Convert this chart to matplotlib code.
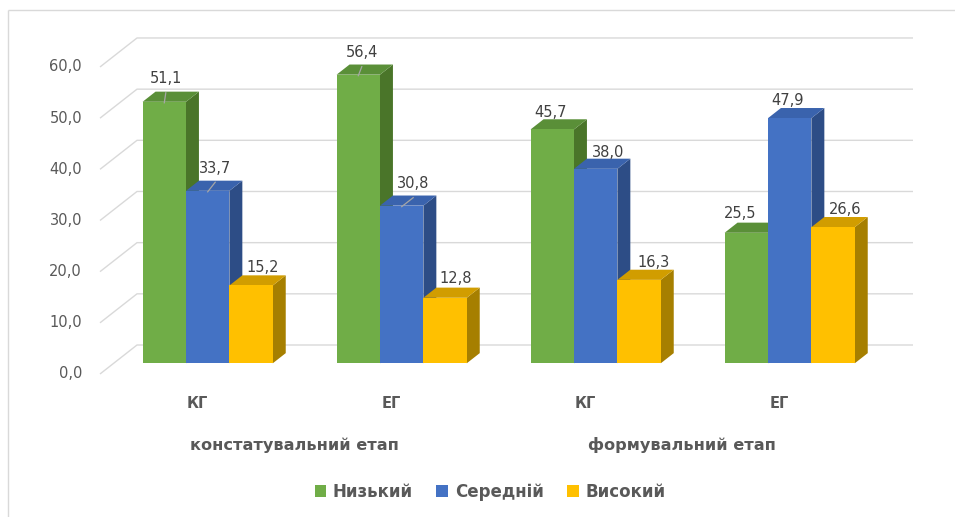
import matplotlib
matplotlib.use('Agg')
import matplotlib.pyplot as plt
from matplotlib.patches import Polygon, Patch

# ---------------- data ----------------
categories = ['КГ', 'ЕГ', 'КГ', 'ЕГ']
stages = ['констатувальний етап', 'формувальний етап']
series_names = ['Низький', 'Середній', 'Високий']
nyzkyi = [51.1, 56.4, 45.7, 25.5]
serednii = [33.7, 30.8, 38.0, 47.9]
vysokyi = [15.2, 12.8, 16.3, 26.6]
yticks = [0, 10, 20, 30, 40, 50, 60]

series_values = [nyzkyi, serednii, vysokyi]

# ---------------- style ----------------
front_cols = ['#70AD47', '#4472C4', '#FFC000']
top_cols = ['#5A8F38', '#3A63AD', '#D19D00']
side_cols = ['#4A7529', '#2D4D86', '#A67F00']
grid_col = '#D9D9D9'
tick_col = '#595959'
val_col = '#404040'

W, H = 955, 517
fig = plt.figure(figsize=(W / 100, H / 100), dpi=100)
ax = fig.add_axes([0, 0, 1, 1])

X0 = 100.0     # front-left corner of the plot floor (px)
CW = 194.0     # category width (px)
Y0 = 374.0     # front zero line (px)
PPU = 5.117    # px per value unit

ax.set_xlim((0 - X0) / CW, (W - X0) / CW)
ax.set_ylim((Y0 - H) / PPU, Y0 / PPU)
ax.axis('off')

def px_x(p):
    return p / CW

def px_y(p):
    return p / PPU

DX = px_x(37)   # full depth offset
DY = px_y(29)
n_cat = len(categories)

# chart border (partially visible)
ax.plot([(8 - X0) / CW, (8 - X0) / CW], [(Y0 - H) / PPU, (Y0 - 10) / PPU],
        color=grid_col, lw=1.0, solid_capstyle='butt', zorder=0)
ax.plot([(8 - X0) / CW, (W - X0) / CW], [(Y0 - 10) / PPU, (Y0 - 10) / PPU],
        color=grid_col, lw=1.0, solid_capstyle='butt', zorder=0)

# walls gridlines
for t in yticks:
    ax.plot([0, DX, n_cat + DX], [t, t + DY, t + DY], color=grid_col, lw=1.0,
            zorder=1, solid_capstyle='butt')
    ax.text(px_x(-18), t, f'{t:.1f}'.replace('.', ','), ha='right', va='center',
            fontsize=10.5, color=tick_col)

# bars
bw = px_x(43.4)
shift = px_x(-3)
z0, z1 = 0.37, 0.72
# label nudges in px (dx from front centre, height above top front edge)
nudges = [[(1.5, 23), (7.5, 22.6), (12, 18)],
          [(3.5, 22), (11.5, 22), (10.5, 19.5)],
          [(-2, 17), (12.5, 16.6), (14, 17.6)],
          [(-6, 19.5), (-2, 18), (12, 18)]]
leaders = {(0, 0), (0, 1), (1, 0), (1, 1)}

z = 3
for i in range(n_cat):
    for j, vals in enumerate(series_values):
        v = vals[i]
        xl = i + 0.5 - 1.5 * bw + j * bw + shift
        xr = xl + bw
        fx0, fy0 = z0 * DX, z0 * DY
        bx0, by0 = z1 * DX, z1 * DY
        front = [(xl + fx0, fy0), (xr + fx0, fy0), (xr + fx0, v + fy0), (xl + fx0, v + fy0)]
        side = [(xr + fx0, fy0), (xr + bx0, by0), (xr + bx0, v + by0), (xr + fx0, v + fy0)]
        top = [(xl + fx0, v + fy0), (xr + fx0, v + fy0), (xr + bx0, v + by0), (xl + bx0, v + by0)]
        ax.add_patch(Polygon(side, closed=True, fc=side_cols[j], ec='none', zorder=z))
        ax.add_patch(Polygon(top, closed=True, fc=top_cols[j], ec='none', zorder=z))
        ax.add_patch(Polygon(front, closed=True, fc=front_cols[j], ec='none', zorder=z))
        z += 1
        cx = (xl + xr) / 2 + fx0
        ty = v + fy0
        ndx, ndy = nudges[i][j]
        lx = cx + px_x(ndx)
        ly = ty + px_y(ndy)
        ax.text(lx, ly, f'{v:.1f}'.replace('.', ','), ha='center', va='center',
                fontsize=10.5, color=val_col, zorder=50)
        if (i, j) in leaders:
            ax.plot([lx, cx], [ly - px_y(14), ty - px_y(1)], color='#A6A6A6',
                    lw=0.9, zorder=49)

# category labels
for i, c in enumerate(categories):
    ax.text(i + 0.5, px_y(Y0 - 403), c, ha='center', va='center',
            fontsize=10.5, fontweight='bold', color=tick_col)
for k, s in enumerate(stages):
    ax.text(2 * k + 1.0, px_y(Y0 - 445), s, ha='center', va='center',
            fontsize=11.6, fontweight='bold', color=tick_col)

# legend
handles = [Patch(facecolor=front_cols[j], edgecolor='none', label=series_names[j])
           for j in range(3)]
leg = fig.legend(handles=handles, loc='center', bbox_to_anchor=(490 / W, 1 - 492 / H),
                 ncol=3, frameon=False, handlelength=0.7,
                 handleheight=0.7, handletextpad=0.4, columnspacing=1.4,
                 prop={'weight': 'bold', 'size': 12})
for t in leg.get_texts():
    t.set_color(tick_col)

fig.savefig('out.png', dpi=100)
